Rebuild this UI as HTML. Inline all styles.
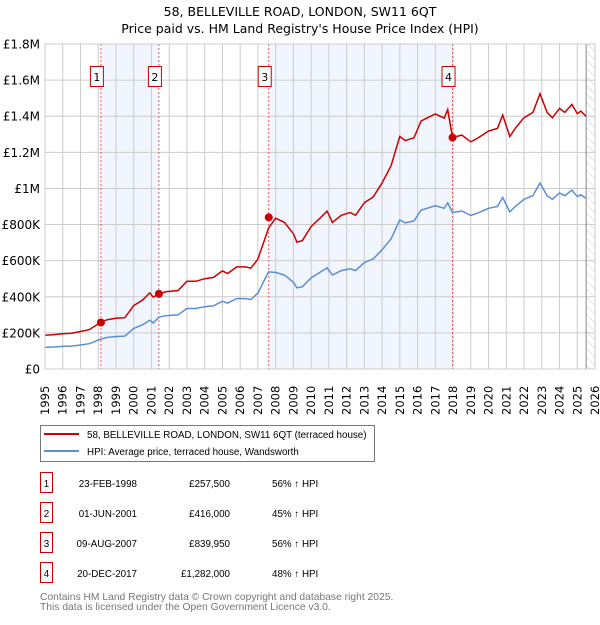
<!DOCTYPE html>
<html><head><meta charset="utf-8"><style>
body{margin:0;background:#fff;font-family:"Liberation Sans","DejaVu Sans",sans-serif;}
svg text{font-family:"DejaVu Sans","Liberation Sans",sans-serif;}
svg text.lib{font-family:"Liberation Sans","DejaVu Sans",sans-serif;}
</style></head><body>
<svg id="c" width="600" height="620" xmlns="http://www.w3.org/2000/svg">
<defs><pattern id="hatch" width="6" height="6" patternUnits="userSpaceOnUse" patternTransform="rotate(-45)"><line x1="0" y1="0" x2="0" y2="6" stroke="#ccc" stroke-width="1"/></pattern></defs>
<text x="300" y="16" text-anchor="middle" font-size="12.5" fill="#000">58, BELLEVILLE ROAD, LONDON, SW11 6QT</text>
<text x="300" y="33" text-anchor="middle" font-size="12.5" fill="#000">Price paid vs. HM Land Registry's House Price Index (HPI)</text>
<g id="plot"></g>
<g>
<rect x="40.5" y="425.5" width="334" height="36" fill="#fff" stroke="#777"/>
<line x1="44" y1="434" x2="79" y2="434" stroke="#cc0000" stroke-width="2"/>
<text class="lib" x="87" y="438" font-size="9.8">58, BELLEVILLE ROAD, LONDON, SW11 6QT (terraced house)</text>
<line x1="44" y1="451" x2="79" y2="451" stroke="#5b8ed4" stroke-width="2"/>
<text class="lib" x="87" y="455" font-size="9.8">HPI: Average price, terraced house, Wandsworth</text>
</g>
<g id="table" font-size="9.8"></g>
<text class="lib" x="40" y="600" font-size="10.3" fill="#777">Contains HM Land Registry data © Crown copyright and database right 2025.</text>
<text class="lib" x="40" y="610" font-size="10.3" fill="#777">This data is licensed under the Open Government Licence v3.0.</text>
</svg>
<script>
const hpiDates=[1995.0,1995.5,1996.0,1996.5,1997.0,1997.5,1998.0,1998.15,1998.5,1999.0,1999.5,2000.0,2000.5,2000.9,2001.1,2001.42,2001.8,2002.5,2003.0,2003.5,2004.0,2004.5,2005.0,2005.3,2005.8,2006.3,2006.6,2007.0,2007.6,2008.0,2008.5,2009.0,2009.2,2009.5,2010.0,2010.5,2010.9,2011.2,2011.7,2012.2,2012.5,2013.0,2013.5,2014.0,2014.5,2015.0,2015.3,2015.8,2016.2,2017.0,2017.5,2017.7,2017.97,2018.5,2019.0,2019.3,2020.0,2020.5,2020.8,2021.2,2021.5,2022.0,2022.5,2022.9,2023.3,2023.6,2024.0,2024.3,2024.7,2025.0,2025.2,2025.5];
const hpiValues=[120,122,125,127,133,140,160,165,175,180,182,225,245,270,255,287,295,300,335,335,345,350,375,365,390,390,385,420,538,535,520,480,450,455,505,535,560,520,545,555,545,590,610,660,720,825,810,820,880,905,890,920,866,875,850,860,890,900,950,870,900,940,960,1030,960,940,975,960,990,955,965,945];
const saleDates=[1998.15,2001.42,2007.61,2017.97];
const salePrices=[257500,416000,839950,1282000];
const saleLabels=["23-FEB-1998","01-JUN-2001","09-AUG-2007","20-DEC-2017"];
const salePriceText=["£257,500","£416,000","£839,950","£1,282,000"];
const saleHpiText=["56% ↑ HPI","45% ↑ HPI","56% ↑ HPI","48% ↑ HPI"];
const yTicks=[0,200000,400000,600000,800000,1000000,1200000,1400000,1600000,1800000];
const yTickLabels=["£0","£200K","£400K","£600K","£800K","£1M","£1.2M","£1.4M","£1.6M","£1.8M"];
const years=[1995,1996,1997,1998,1999,2000,2001,2002,2003,2004,2005,2006,2007,2008,2009,2010,2011,2012,2013,2014,2015,2016,2017,2018,2019,2020,2021,2022,2023,2024,2025,2026];

const NS="http://www.w3.org/2000/svg";
const X0=45,X1=595,Y0=369,Y1=44;
const xs=d=>X0+(d-1995)/31*(X1-X0);
const ys=v=>Y0-v/1800000*(Y0-Y1);
function mk(tag,attrs,parent){const e=document.createElementNS(NS,tag);for(const k in attrs)e.setAttribute(k,attrs[k]);parent.appendChild(e);return e;}
const P=document.getElementById('plot');
function hpiAt(d){for(let i=0;i<hpiDates.length-1;i++){if(d<=hpiDates[i+1]){const t=(d-hpiDates[i])/(hpiDates[i+1]-hpiDates[i]);return (hpiValues[i]+t*(hpiValues[i+1]-hpiValues[i]))*1000;}}return hpiValues[hpiValues.length-1]*1000;}
for(const [a,b] of [[0,1],[2,3]]){const r=mk('rect',{x:xs(saleDates[a]),y:Y1,width:xs(saleDates[b])-xs(saleDates[a]),height:Y0-Y1,fill:'#eef3fd',opacity:0.8},P);

}
const last=hpiDates[hpiDates.length-1];
const h=mk('rect',{x:xs(last),y:Y1,width:X1-xs(last),height:Y0-Y1,fill:'url(#hatch)'},P);


years.forEach(y=>{const l=mk('line',{x1:xs(y),x2:xs(y),y1:Y1,y2:Y0,stroke:'#ccc'},P);


const t=mk('text',{x:0,y:0,transform:`translate(${xs(y)+4},${Y0+46}) rotate(-90)`,'font-size':'11.5'},P);t.textContent=y;

});
yTicks.forEach((v,i)=>{const l=mk('line',{x1:X0,x2:X1,y1:ys(v),y2:ys(v),stroke:'#ccc'},P);


const t=mk('text',{x:40,y:ys(v)+4.5,'text-anchor':'end','font-size':'12'},P);t.textContent=yTickLabels[i];

});
const lx=mk('line',{x1:xs(last),x2:xs(last),y1:Y1,y2:Y0,stroke:'#888'},P);


saleDates.forEach((d,i)=>{const l=mk('line',{x1:xs(d),x2:xs(d),y1:Y1,y2:Y0,stroke:'#e06060','stroke-dasharray':'2,2'},P);


const b=mk('rect',{x:xs(d)-10.5,y:66.5,width:13,height:20,fill:'#fff',stroke:'#cc0000'},P);


const t=mk('text',{x:xs(d)-4,y:81,'text-anchor':'middle','font-size':'11'},P);t.textContent=i+1;

});
let hp='',rp='';
hpiDates.forEach((d,i)=>{const v=hpiValues[i]*1000;hp+=(i?'L':'M')+xs(d).toFixed(1)+','+ys(v).toFixed(1);
let k=0;for(let j=0;j<saleDates.length;j++)if(d>=saleDates[j]-1e-6)k=j;
const f=salePrices[k]/hpiAt(saleDates[k]);rp+=(i?'L':'M')+xs(d).toFixed(1)+','+ys(v*f).toFixed(1);});
const hl=mk('path',{d:hp,fill:'none',stroke:'#5b8ed4','stroke-width':1.5},P);


const rl=mk('path',{d:rp,fill:'none',stroke:'#cc0000','stroke-width':1.5},P);


saleDates.forEach((d,i)=>{const c=mk('circle',{cx:xs(d),cy:ys(salePrices[i]),r:4,fill:'#cc0000'},P);

});
const ax=mk('rect',{x:X0,y:Y1,width:X1-X0,height:Y0-Y1,fill:'none',stroke:'#ccc'},P);


const T=document.getElementById('table');
saleDates.forEach((d,i)=>{const y=483+i*30;
const b=mk('rect',{x:40.5,y:y-10.5,width:12,height:20,fill:'#fff',stroke:'#cc0000'},T);


const cells=[[46.5,'middle',String(i+1)],[137,'end',saleLabels[i]],[230,'end',salePriceText[i]],[272,'start',saleHpiText[i]]];
const names=['table-marker-number','table-sale-date','table-sale-price','table-hpi-change'];
cells.forEach((c,j)=>{const t=mk('text',{x:c[0],y:y+4,'text-anchor':c[1],'class':'lib'},T);t.textContent=c[2];

});});
</script>
</body></html>
